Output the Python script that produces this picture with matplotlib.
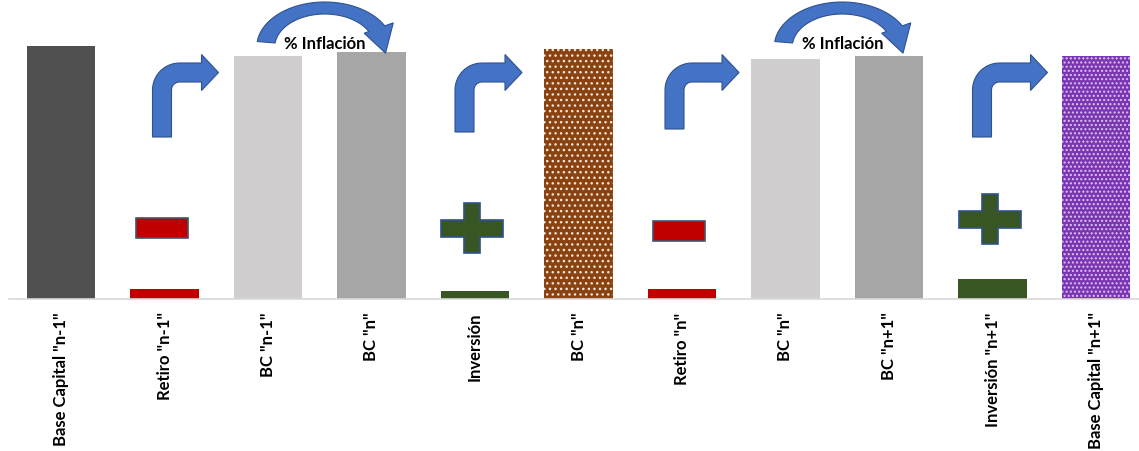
import numpy as np
import matplotlib
matplotlib.use('Agg')
import matplotlib.pyplot as plt
from matplotlib.patches import Polygon, Rectangle

plt.rcParams['font.family'] = ['Lato', 'DejaVu Sans']
plt.rcParams['hatch.linewidth'] = 1.0

labels = ['Base Capital "n-1"', 'Retiro "n-1"', 'BC "n-1"', 'BC "n"', 'Inversión',
          'BC "n"', 'Retiro "n"', 'BC "n"', 'BC "n+1"', 'Inversión "n+1"',
          'Base Capital "n+1"']
values = [253, 10, 243, 247, 8, 250, 10, 240, 243, 20, 243]
colors = ['#505050', '#C00000', '#D0CECE', '#A6A6A6', '#375623', '#8A4210',
          '#C00000', '#D0CECE', '#A6A6A6', '#375623', '#7A35B0']
hatches = [None, None, None, None, None, '...', None, None, None, None, '....']
hatch_cols = ['none'] * 5 + ['#F2E6DA'] + ['none'] * 4 + ['#DCC3F2']

# decorations: which bar they sit over
arrow_bars = [1, 4, 6, 9]
arrow_dx = [-12, -20, -17, -20]
arrow_len = [66, 67, 74, 75]
arrow_bottom = [138, 133, 130, 138]
minus_bars = [1, 6]
minus_y = [229, 232]
plus_bars = [4, 9]
plus_y = [229, 220]
infl_pairs = [(2, 3), (7, 8)]

W, H = 1139, 452
fig = plt.figure(figsize=(W / 100, H / 100), dpi=100)
ax = fig.add_axes([9.25 / W, (H - 300) / H, 1138.5 / W, 300 / H])

x = np.arange(len(values))
bars = ax.bar(x, values, width=0.66, color=colors, linewidth=0)
for b, h, hc in zip(bars, hatches, hatch_cols):
    if h:
        b.set_hatch(h)
        b.set_edgecolor(hc)
        b.set_linewidth(0)

ax.set_xlim(-0.5, 10.5)
ax.set_ylim(0, 300)
ax.set_xticks(x)
ax.set_xticklabels(labels, rotation=90, fontsize=12, fontweight='bold', color='#000000')
ax.tick_params(axis='x', length=0, pad=9)
ax.set_yticks([])
for s in ['left', 'right', 'top']:
    ax.spines[s].set_visible(False)
ax.spines['bottom'].set_color('#D9D9D9')
ax.spines['bottom'].set_linewidth(1.2)

# overlay in pixel coordinates (y down) for the shapes
ov = fig.add_axes([0, 0, 1, 1], zorder=5)
ov.set_xlim(0, W)
ov.set_ylim(H, 0)
ov.axis('off')


def cx(i):
    return ax.transData.transform((i, 0))[0]


blue = '#4472C4'
blue_edge = '#2F528F'


def bent_arrow(x0, y0, xt, yt=64, w=19, R=27, hh=18, hl=17):
    pts = [(x0, y0), (x0, yt + R)]
    c = (x0 + R, yt + R)
    for a in np.linspace(np.pi, 1.5 * np.pi, 15):
        pts.append((c[0] + R * np.cos(a), c[1] + R * np.sin(a)))
    pts += [(xt - hl, yt), (xt - hl, yt + w / 2 - hh), (xt, yt + w / 2),
            (xt - hl, yt + w / 2 + hh), (xt - hl, yt + w)]
    r = R - w
    c = (x0 + w + r, yt + w + r)
    for a in np.linspace(1.5 * np.pi, np.pi, 10):
        pts.append((c[0] + r * np.cos(a), c[1] + r * np.sin(a)))
    pts.append((x0 + w, y0))
    ov.add_patch(Polygon(pts, closed=True, fc=blue, ec=blue_edge, lw=0.8))


def curved_arrow(xc, yc=48, rxo=68, ryo=45, rxi=50, ryi=33, t0=173, t1=28,
                 ext=(9, 5), hl=26):
    t = np.radians(np.linspace(t0, t1, 40))
    outer = np.c_[xc + rxo * np.cos(t), yc - ryo * np.sin(t)]
    inner = np.c_[xc + rxi * np.cos(t), yc - ryi * np.sin(t)][::-1]
    O, I = outer[-1], inner[0]
    u = (O - I) / np.hypot(*(O - I))
    n = np.array([-u[1], u[0]])
    if n[1] < 0:
        n = -n
    mid = (O + I) / 2
    head = [O + ext[0] * u, mid + hl * n, I - ext[1] * u]
    pts = np.vstack([outer, head, inner])
    ov.add_patch(Polygon(pts, closed=True, fc=blue, ec=blue_edge, lw=0.8))


for i, dx, ln, yb in zip(arrow_bars, arrow_dx, arrow_len, arrow_bottom):
    x0 = cx(i) + dx
    bent_arrow(x0, yb, x0 + ln)

for i, yc in zip(minus_bars, minus_y):
    c = cx(i) - 3
    ov.add_patch(Rectangle((c - 26, yc - 10), 52, 20, fc='#C00000', ec='#44546A', lw=1.2))

for i, yc in zip(plus_bars, plus_y):
    c = cx(i) - 3
    pts = [(c - 8, yc - 25), (c + 8, yc - 25), (c + 8, yc - 8.5), (c + 31, yc - 8.5),
           (c + 31, yc + 8.5), (c + 8, yc + 8.5), (c + 8, yc + 25), (c - 8, yc + 25),
           (c - 8, yc + 8.5), (c - 31, yc + 8.5), (c - 31, yc - 8.5), (c - 8, yc - 8.5)]
    ov.add_patch(Polygon(pts, closed=True, fc='#375623', ec='#2F528F', lw=1.2))

for a, b in infl_pairs:
    mid = (cx(a) + cx(b)) / 2
    curved_arrow(mid + 5)
    ov.text(mid + 5, 44, '% Inflación', ha='center', va='center',
            fontsize=12, fontweight='bold', color='#000000', zorder=6)

fig.savefig('out.png', dpi=100)
